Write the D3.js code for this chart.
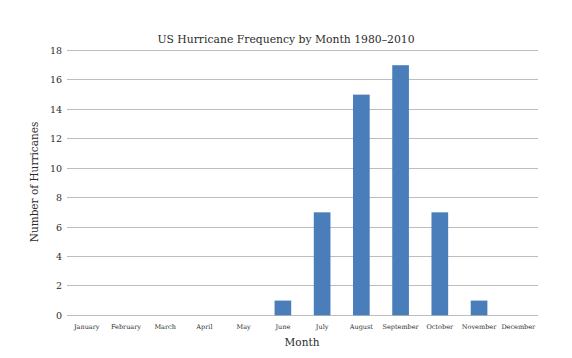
<!DOCTYPE html>
<html><head><meta charset="utf-8">
<script src="https://cdn.jsdelivr.net/npm/d3@7"></script>
<style>
html,body{margin:0;padding:0;background:#fff;}
text{font-family:"DejaVu Serif","Liberation Serif",serif;fill:#2b2b2b;}
</style></head>
<body><svg id="c" width="572" height="358"></svg>
<script>
const months = ["January","February","March","April","May","June","July","August","September","October","November","December"];
const hurricanes = [0,0,0,0,0,1,7,15,17,7,1,0];
const yTicks = [0,2,4,6,8,10,12,14,16,18];
const title = "US Hurricane Frequency by Month 1980\u20132010";
const xTitle = "Month";
const yTitle = "Number of Hurricanes";

const svg = d3.select("#c");
const x = d3.scaleBand().domain(months).range([67,538]).paddingInner(0.575).paddingOuter(0.29);
const y = d3.scaleLinear().domain([0,18]).range([315.3,50.5]);

svg.append("g").selectAll("line").data(yTicks).join("line")
  .attr("x1",67).attr("x2",538)
  .attr("y1",d=>y(d)).attr("y2",d=>y(d))
  .attr("stroke","#bdbdbd").attr("stroke-width",1).attr("shape-rendering","crispEdges");

svg.append("g").selectAll("rect").data(months).join("rect")
  .attr("x",d=>x(d)).attr("width",x.bandwidth())
  .attr("y",(d,i)=>y(hurricanes[i]))
  .attr("height",(d,i)=>y(0)-y(hurricanes[i]))
  .attr("fill","#4a7ebb");

const ya = svg.append("g").attr("transform","translate(62,0)")
  .call(d3.axisLeft(y).tickValues(yTicks).tickSize(0).tickPadding(0));
ya.select(".domain").remove();
ya.selectAll("text").attr("font-size","9.5px").style("font-family","'DejaVu Serif',serif").attr("fill","#2b2b2b");

const xa = svg.append("g").attr("transform","translate(0,324)")
  .call(d3.axisBottom(x).tickSize(0).tickPadding(0));
xa.select(".domain").remove();
xa.selectAll("text").attr("font-size","6.5px").style("font-family","'DejaVu Serif',serif").attr("fill","#2b2b2b");

svg.append("text").attr("x",286).attr("y",43).attr("text-anchor","middle")
  .attr("font-size","10.8px").text(title);
svg.append("text").attr("x",302).attr("y",346).attr("text-anchor","middle")
  .attr("font-size","10.5px").text(xTitle);
svg.append("text").attr("transform","translate(38,182) rotate(-90)").attr("text-anchor","middle")
  .attr("font-size","10.5px").text(yTitle);
</script></body></html>
